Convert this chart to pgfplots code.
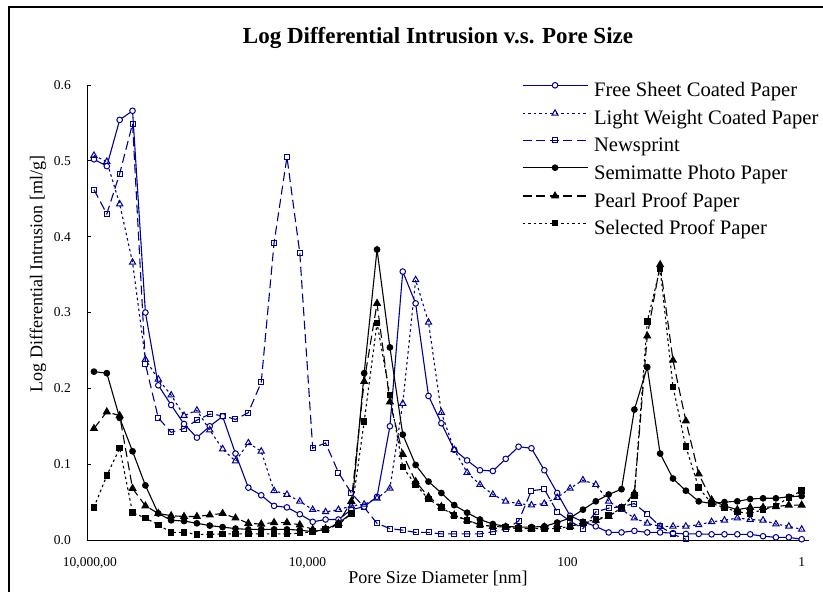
\documentclass[border=0pt]{standalone}
\usepackage{fontspec}
\setmainfont{Liberation Serif}
\usepackage{pgfplots}
\usepackage{pgfplotstable}
\pgfplotsset{compat=1.18}
\definecolor{navyb}{RGB}{0,0,145}

\pgfplotstableread{
i fs lw np sm pp sp
0 0.502 0.507 0.462 0.222 0.147 0.043
1 0.493 0.499 0.430 0.220 0.169 0.085
2 0.554 0.443 0.483 0.161 0.164 0.121
3 0.566 0.366 0.549 0.117 0.068 0.036
4 0.300 0.238 0.232 0.072 0.045 0.029
5 0.204 0.212 0.161 0.035 0.035 0.020
6 0.178 0.191 0.142 0.026 0.032 0.010
7 0.153 0.164 0.147 0.025 0.031 0.010
8 0.135 0.171 0.158 0.022 0.031 0.0075
9 0.150 0.145 0.166 0.019 0.033 0.0075
10 0.163 0.120 0.164 0.017 0.035 0.008
11 0.114 0.104 0.159 0.015 0.029 0.008
12 0.069 0.128 0.168 0.014 0.022 0.008
13 0.059 0.117 0.208 0.014 0.021 0.008
14 0.045 0.065 0.392 0.014 0.023 0.008
15 0.043 0.060 0.505 0.014 0.023 0.008
16 0.034 0.051 0.378 0.013 0.020 0.009
17 0.024 0.040 0.121 0.011 0.014 0.011
18 0.027 0.037 0.128 0.014 0.015 0.014
19 0.027 0.040 0.089 0.022 0.022 0.020
20 0.040 0.045 0.062 0.035 0.051 0.035
21 0.044 0.047 0.043 0.220 0.209 0.156
22 0.057 0.055 0.022 0.383 0.312 0.286
23 0.150 0.068 0.015 0.254 0.182 0.191
24 0.354 0.180 0.013 0.139 0.113 0.096
25 0.312 0.343 0.010 0.099 0.077 0.073
26 0.190 0.287 0.010 0.077 0.057 0.054
27 0.154 0.168 0.008 0.062 0.044 0.043
28 0.119 0.119 0.008 0.046 0.033 0.032
29 0.105 0.089 0.008 0.036 0.026 0.026
30 0.092 0.073 0.008 0.027 0.020 0.020
31 0.091 0.060 0.011 0.021 0.018 0.018
32 0.107 0.051 0.014 0.018 0.017 0.017
33 0.123 0.048 0.025 0.017 0.015 0.015
34 0.121 0.046 0.065 0.017 0.015 0.015
35 0.092 0.048 0.067 0.018 0.017 0.015
36 0.062 0.056 0.037 0.023 0.018 0.015
37 0.032 0.068 0.025 0.029 0.018 0.018
38 0.024 0.079 0.015 0.040 0.022 0.023
39 0.018 0.073 0.037 0.051 0.026 0.027
40 0.010 0.051 0.042 0.060 0.031 0.032
41 0.010 0.040 0.044 0.067 0.042 0.042
42 0.012 0.029 0.048 0.172 0.062 0.059
43 0.010 0.022 0.034 0.228 0.269 0.288
44 0.010 0.018 0.018 0.114 0.363 0.358
45 0.009 0.018 0.0075 0.081 0.237 0.202
46 0.008 0.018 0.001 0.065 0.157 0.123
47 0.008 0.020 nan 0.051 0.087 0.069
48 0.0075 0.024 nan 0.048 0.053 0.048
49 0.0075 0.026 nan 0.050 0.045 0.043
50 0.0075 0.029 nan 0.051 0.040 0.037
51 0.0075 0.027 nan 0.054 0.043 0.035
52 0.005 0.026 nan 0.055 0.043 0.040
53 0.0035 0.021 nan 0.055 0.044 0.045
54 0.0035 0.018 nan 0.057 0.046 0.056
55 0.001 0.014 nan 0.058 0.046 0.065
}\data

\begin{document}
\begin{tikzpicture}[x=1pt,y=1pt]
\path[use as bounding box] (0,0) rectangle (823,592);
\draw[line width=2pt] (9,-5) -- (9,585) -- (830,585);
\node[font=\bfseries\fontsize{23}{23}\selectfont] at (438,554) {Log Differential Intrusion v.s. Pore Size};
\node[font=\fontsize{18}{18}\selectfont] at (438,14) {Pore Size Diameter [nm]};
\node[rotate=90, font=\fontsize{18}{18}\selectfont] at (38,318) {Log Differential Intrusion [ml/g]};
\begin{axis}[
  at={(87pt,52pt)}, anchor=south west, scale only axis,
  width=722pt, height=455pt,
  xmin=-0.54, xmax=55.57, ymin=0, ymax=0.6,
  axis x line*=bottom, axis y line*=left,
  axis line style={line width=0.8pt, black},
  xtick={-0.31,16.6,36.8,55},
  xticklabels={{10,000,00},{10,000},{100},{1}},
  xtick style={draw=none},
  ytick={0,0.1,0.2,0.3,0.4,0.5,0.6},
  ytick style={black, line width=0.8pt},
  tick align=inside, major tick length=4pt,
  /pgf/number format/assume math mode=true,
  /pgf/number format/fixed, /pgf/number format/fixed zerofill, /pgf/number format/precision=1,
  yticklabel style={anchor=east, inner sep=0pt, xshift=-16pt, font=\fontsize{13.5}{13.5}\selectfont},
  xticklabel style={anchor=base, inner sep=0pt, yshift=-27pt, font=\fontsize{13.5}{13.5}\selectfont},
  legend style={at={(0.6025,1.0055)}, anchor=north west, draw=none, fill=none,
    inner sep=0pt, outer sep=0pt, row sep=9pt, column sep=6pt,
    font=\fontsize{20.6}{20.6}\selectfont,
    nodes={inner sep=0pt, text height=14pt, text depth=4pt}},
  legend cell align=left,
  legend image code/.code={\draw[mark repeat=2, mark phase=2, #1] plot coordinates {(0pt,6.5pt) (32.5pt,6.5pt) (65pt,6.5pt)};},
]
\addplot[navyb, line width=1.1pt, mark=*, mark size=2.8pt, mark options={solid, fill=white, line width=1pt}] table[x=i,y=fs]{\data};
\addlegendentry{Free Sheet Coated Paper}
\addplot[navyb, line width=1.1pt, dash pattern=on 2.5pt off 3pt, mark=triangle, mark size=3.6pt, mark options={solid, fill=white, line width=1pt}] table[x=i,y=lw]{\data};
\addlegendentry{Light Weight Coated Paper}
\addplot[navyb, line width=1.1pt, dash pattern=on 9pt off 4.5pt, mark=square, mark size=2.5pt, mark options={solid, fill=white, line width=1pt}] table[x=i,y=np]{\data};
\addlegendentry{Newsprint}
\addplot[black, line width=1.1pt, mark=*, mark size=2.8pt, mark options={solid, fill=black}] table[x=i,y=sm]{\data};
\addlegendentry{Semimatte Photo Paper}
\addplot[black, line width=1.1pt, dash pattern=on 9pt off 4.5pt, mark=triangle*, mark size=3.8pt, mark options={solid, fill=black}] table[x=i,y=pp]{\data};
\addlegendentry{Pearl Proof Paper}
\addplot[black, line width=1.1pt, dash pattern=on 2.5pt off 3pt, mark=square*, mark size=2.7pt, mark options={solid, fill=black}] table[x=i,y=sp]{\data};
\addlegendentry{Selected Proof Paper}
\end{axis}
\end{tikzpicture}
\end{document}
